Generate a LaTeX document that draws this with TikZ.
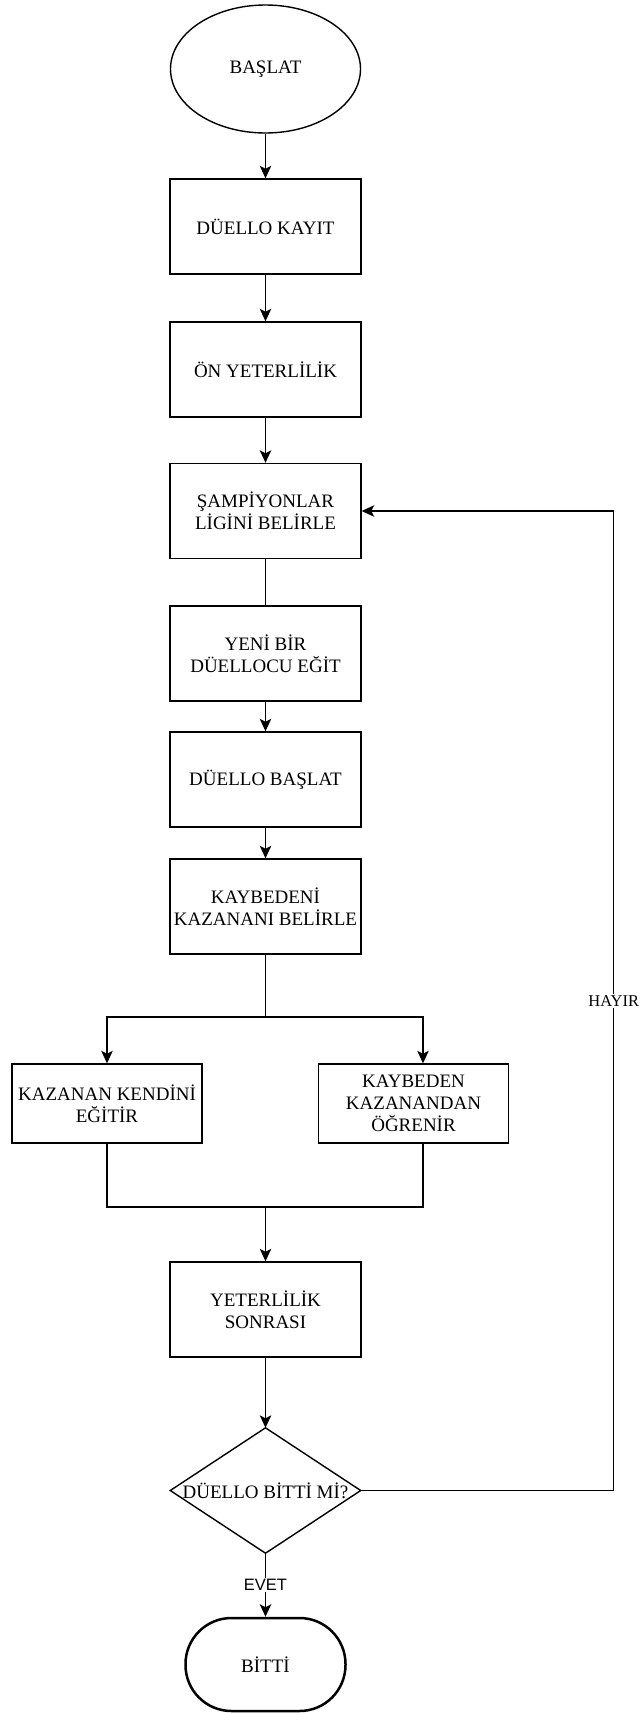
\documentclass[tikz,border=0pt]{standalone}
\usepackage{fontspec}
\setmainfont{Liberation Serif}
\newfontfamily\sansfont{Liberation Sans}
\usetikzlibrary{shapes.geometric,arrows.meta}
\begin{document}
\begin{tikzpicture}[x=1pt,y=-1pt,
  every node/.style={font=\fontsize{19}{21.7}\selectfont, text=black},
  proc/.style={draw, line width=1.4pt, minimum width=191pt, minimum height=95pt, inner sep=0pt, align=center},
  flow/.style={line width=1.4pt, -{Stealth[length=12.5pt,width=11.5pt,inset=3pt]}},
  plain/.style={line width=1.4pt},
  lbl/.style={fill=white, inner sep=1.5pt}]
\useasboundingbox (0,0) rectangle (641,1713);
\node[ellipse, draw, line width=1.4pt, minimum width=190pt, minimum height=128pt, inner sep=0pt] (start) at (265.5,69) {BAŞLAT};
\node[proc] (kayit) at (265.5,226.5) {DÜELLO KAYIT};
\node[proc] (on) at (265.5,369.5) {ÖN YETERLİLİK};
\node[proc] (sampiyon) at (265.5,511) {ŞAMPİYONLAR\\LİGİNİ BELİRLE};
\node[proc] (yeni) at (265.5,653.5) {YENİ BİR\\DÜELLOCU EĞİT};
\node[proc] (baslat2) at (265.5,779.5) {DÜELLO BAŞLAT};
\node[proc] (belirle) at (265.5,906.5) {KAYBEDENİ\\KAZANANI BELİRLE};
\node[proc, minimum width=190pt, minimum height=79pt] (kazanan) at (107,1103.5) {KAZANAN KENDİNİ\\EĞİTİR};
\node[proc, minimum width=190pt, minimum height=79pt] (kaybeden) at (413.5,1103.5) {KAYBEDEN\\KAZANANDAN\\ÖĞRENİR};
\node[proc] (sonrasi) at (265.5,1309.5) {YETERLİLİK\\SONRASI};
\node[minimum width=190pt, minimum height=125pt, inner sep=0pt] (karar) at (265.5,1490.5) {DÜELLO BİTTİ Mİ?};
\draw[plain] (karar.north) -- (karar.east) -- (karar.south) -- (karar.west) -- cycle;
\node[draw, line width=2.5pt, rounded corners=46pt, minimum width=160pt, minimum height=93pt, inner sep=0pt] (bitti) at (265.5,1664.5) {BİTTİ};

\coordinate (split) at (265.5,1017);
\coordinate (join) at (265.5,1207);

\draw[flow] (start) -- (kayit);
\draw[flow] (kayit) -- (on);
\draw[flow] (on) -- (sampiyon);
\draw[plain] (sampiyon) -- (yeni);
\draw[flow] (yeni) -- (baslat2);
\draw[flow] (baslat2) -- (belirle);
\draw[plain] (belirle.south) -- (split);
\draw[flow] (split) -| (kazanan.north);
\draw[flow] (split) -| ([xshift=9.5pt]kaybeden.north);
\draw[plain] (kazanan.south) |- (join);
\draw[plain] ([xshift=9.5pt]kaybeden.south) |- (join);
\draw[flow] (join) -- (sonrasi.north);
\draw[flow] (sonrasi) -- (karar.north);
\draw[flow] (karar.south) -- node[lbl, font=\sansfont\fontsize{16.5}{19}\selectfont]{EVET} (bitti.north);
\draw[flow] (karar.east) -- ++(253,0) |- node[lbl, pos=0.25, font=\fontsize{16.5}{19}\selectfont]{HAYIR} (sampiyon.east);
\end{tikzpicture}
\end{document}
